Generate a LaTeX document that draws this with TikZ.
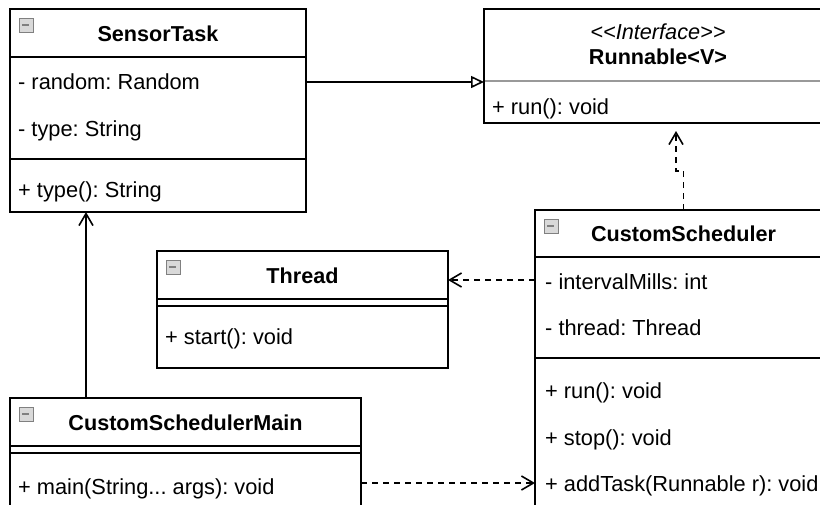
\documentclass[tikz,border=0pt]{standalone}
\usepackage{fontspec}
\setmainfont{Liberation Sans}[Ligatures=TeXOff]
\usetikzlibrary{arrows.meta}
\frenchspacing
\begin{document}
\begin{tikzpicture}[x=1pt,y=-1pt,
  box/.style={draw, line width=1.6pt, fill=white, anchor=north west, inner sep=0pt, outer sep=0pt},
  ttl/.style={font=\fontsize{21.6}{24}\selectfont\bfseries, inner sep=0pt, text height=15.4pt, text depth=0pt},
  stereo/.style={font=\fontsize{21.7}{24}\selectfont\itshape, inner sep=0pt, text height=15.4pt, text depth=0pt},
  itm/.style={font=\fontsize{21.8}{24}\selectfont, anchor=west, inner sep=0pt, text height=15.4pt, text depth=0pt},
  sepline/.style={line width=1.6pt},
  graysep/.style={line width=1.6pt, draw=black!40},
  icon/.style={draw=black!50, fill=black!15, line width=0.8pt, minimum size=14pt, inner sep=0pt, anchor=north west,
    path picture={\draw[line width=1.4pt] ([xshift=3.5pt]path picture bounding box.west) -- ([xshift=-3.5pt]path picture bounding box.east);}},
  vtip/.style={-{Straight Barb[length=12pt,width=14pt,line width=1.6pt]}},
  dep/.style={line width=1.6pt, dash pattern=on 6pt off 5pt, vtip},
  assoc/.style={line width=1.6pt, vtip},
  inh/.style={line width=1.6pt, -{Triangle[open,length=13pt,width=12pt,line width=1.6pt]}},
]
\useasboundingbox (0,0) rectangle (820,504);
\clip (0,0) rectangle (820,504);
\fill[white] (0,0) rectangle (820,504);

% SensorTask
\node[box, minimum width=296pt, minimum height=203pt] (st) at (10,9) {};
\node[icon] (sti) at (18.5,17.5) {};
\node[ttl] (stt) at (158,34) {SensorTask};
\draw[sepline] (10,57) -- (306,57);
\node[itm] (st1) at (18,82) {- random: Random};
\node[itm] (st2) at (18,129) {- type: String};
\draw[sepline] (10,159) -- (306,159);
\node[itm] (st3) at (18,190) {+ type(): String};

% Runnable
\node[box, minimum width=348pt, minimum height=114pt] (rn) at (484,9) {};
\node[stereo] (rns) at (658,32) {<<Interface>>};
\node[ttl] (rnt) at (658,57) {Runnable<V>};
\draw[graysep] (485,81) -- (832,81);
\node[itm] (rn1) at (492,107) {+ run(): void};

% Thread
\node[box, minimum width=291pt, minimum height=117pt] (th) at (157,251) {};
\node[icon] (thi) at (165.5,259.5) {};
\node[ttl] (tht) at (302.5,276) {Thread};
\draw[sepline] (157,299) -- (448,299);
\draw[sepline] (157,306) -- (448,306);
\node[itm] (th1) at (165,337) {+ start(): void};

% CustomScheduler
\node[box, minimum width=297pt, minimum height=320pt] (cs) at (535,210) {};
\node[icon] (csi) at (543.5,218.5) {};
\node[ttl] (cst) at (683.5,234) {CustomScheduler};
\draw[sepline] (535,257) -- (832,257);
\node[itm] (cs1) at (545,282) {- intervalMills: int};
\node[itm] (cs2) at (545,328) {- thread: Thread};
\draw[sepline] (535,358) -- (832,358);
\node[itm] (cs3) at (545,391) {+ run(): void};
\node[itm] (cs4) at (545,438) {+ stop(): void};
\node[itm] (cs5) at (545,484) {+ addTask(Runnable r): void};

% CustomSchedulerMain
\node[box, minimum width=351pt, minimum height=130pt] (mn) at (10,398) {};
\node[icon] (mni) at (18.5,406.5) {};
\node[ttl] (mnt) at (185.5,423) {CustomSchedulerMain};
\draw[sepline] (10,446) -- (361,446);
\draw[sepline] (10,453) -- (361,453);
\node[itm] (mn1) at (18,487) {+ main(String... args): void};

% connectors
\draw[inh] ([yshift=-73pt]st.north east) -- ([yshift=-73pt]rn.north west);
\coordinate (rtip) at (676,131);
\draw[dep] (cs.north) -- ++(0,-39) -| (rtip);
\draw[dep] ([yshift=-70pt]cs.north west) -- ([yshift=-29pt]th.north east);
\draw[assoc] ([xshift=76pt]mn.north west) -- ([xshift=76pt]st.south west);
\draw[dep] ([yshift=-85pt]mn.north east) -- ([yshift=-273pt]cs.north west);
\end{tikzpicture}
\end{document}
